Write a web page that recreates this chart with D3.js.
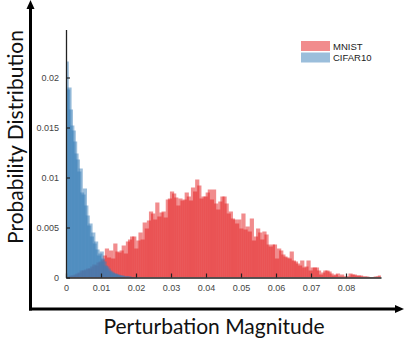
<!DOCTYPE html>
<html>
<head>
<meta charset="utf-8">
<script src="https://cdn.jsdelivr.net/npm/d3@7"></script>
<style>
  html, body { margin: 0; padding: 0; background: #fff; }
  svg { display: block; }
</style>
</head>
<body>
<script>
// histogram bins (probability per bin)
const mnistBin = 0.0006
const mnistValues = [
  0.00005, 0.0001, 0.0002, 0.0002, 0.0003, 0.0004, 0.0005, 0.0007, 0.0007, 0.0008,
  0.0009, 0.0009, 0.0011, 0.0013, 0.0012, 0.0015, 0.0016, 0.0018, 0.0022, 0.0029,
  0.0020, 0.0027, 0.0019, 0.0034, 0.0026, 0.0025, 0.0027, 0.0032, 0.0024, 0.0036,
  0.0038, 0.0041, 0.0041, 0.0029, 0.0037, 0.0045, 0.0038, 0.0055, 0.0049, 0.0057,
  0.0066, 0.0064, 0.0058, 0.0075, 0.0061, 0.0065, 0.0066, 0.0060, 0.0078, 0.0079,
  0.0086, 0.0084, 0.0080, 0.0072, 0.0079, 0.0077, 0.0078, 0.0085, 0.0081, 0.0077,
  0.0090, 0.0086, 0.0098, 0.0092, 0.0079, 0.0081, 0.0081, 0.0085, 0.0088, 0.0078,
  0.0088, 0.0074, 0.0068, 0.0076, 0.0081, 0.0081, 0.0074, 0.0064, 0.0066, 0.0059,
  0.0058, 0.0054, 0.0058, 0.0049, 0.0064, 0.0048, 0.0051, 0.0046, 0.0059, 0.0037,
  0.0041, 0.0049, 0.0045, 0.0038, 0.0046, 0.0043, 0.0033, 0.0031, 0.0033, 0.0033,
  0.0019, 0.0029, 0.0027, 0.0023, 0.0021, 0.0020, 0.0019, 0.0026, 0.0017, 0.0016,
  0.0014, 0.0012, 0.0017, 0.0010, 0.0011, 0.0017, 0.0007, 0.0010, 0.0010, 0.0010,
  0.0007, 0.0003, 0.0005, 0.0007, 0.0007, 0.0006, 0.0004, 0.0002, 0.0003, 0.0004,
  0.0001, 0.0003, 0.0001, 0.0001, 0.0001, 0.0004, 0.0003, 0.0003, 0.0002, 0.0002,
  0.0002, 0.0001, 0.0001, 0.0001, 0.00005, 0.00005, 0.00005, 0.0001, 0.0001, 0.0002
]
const cifarBin = 0.0004
const cifarValues = [
  0.0216, 0.0188, 0.0190, 0.0168, 0.0152, 0.0147, 0.0136, 0.0124, 0.0118, 0.0106,
  0.0109, 0.0085, 0.0083, 0.0089, 0.0072, 0.0062, 0.0052, 0.0054, 0.0041, 0.0045,
  0.0034, 0.0036, 0.0028, 0.0022, 0.0024, 0.0026, 0.0019, 0.0016, 0.0012, 0.0011,
  0.0009, 0.0007, 0.0006, 0.0005, 0.0004, 0.0004, 0.0003, 0.0003, 0.0002, 0.0002,
  0.0002, 0.0001, 0.0001, 0.0001, 0.0001, 0.0001, 0.00005, 0.00005, 0.00005, 0.00005
]
const seriesNames = ['MNIST', 'CIFAR10']
const seriesColors = ['#e41a1c', '#377eb8']
const xTicks = [0, 0.01, 0.02, 0.03, 0.04, 0.05, 0.06, 0.07, 0.08]
const yTicks = [0, 0.005, 0.01, 0.015, 0.02]
const xTitle = 'Perturbation Magnitude'
const yTitle = 'Probability Distribution'

const W = 404, H = 343
const plot = {left: 66, right: 381, top: 29.5, bottom: 277.5}

const svg = d3.select('body').append('svg')
  .attr('width', W).attr('height', H)

const x = d3.scaleLinear().domain([0, 0.09]).range([plot.left, plot.right])
const y = d3.scaleLinear().domain([0, 0.0248]).range([plot.bottom, plot.top])

svg.append('defs').append('clipPath').attr('id', 'clip')
  .append('rect')
  .attr('x', plot.left).attr('y', 0)
  .attr('width', plot.right - plot.left).attr('height', plot.bottom)

const bars = svg.append('g').attr('clip-path', 'url(#clip)')

// bars drawn half transparent and overlapping their neighbours,
// so the tops get the light / dark mix of the original
const drawHist = (values, bin, color, spread) => {
  const px = x(bin) - x(0)
  bars.append('g').selectAll('rect')
    .data(values)
    .enter()
    .append('rect')
    .attr('x', (d, i) => x(i * bin) + px / 2 - px * spread / 2)
    .attr('width', px * spread)
    .attr('y', d => y(d))
    .attr('height', d => y(0) - y(d))
    .attr('fill', color)
    .attr('fill-opacity', 0.5)
}
drawHist(mnistValues, mnistBin, seriesColors[0], 2)
drawHist(cifarValues, cifarBin, seriesColors[1], 3)

// axes
const xAxis = d3.axisBottom(x).tickValues(xTicks).tickSizeInner(-4).tickSizeOuter(0).tickPadding(7)
  .tickFormat(d => d === 0 ? '0' : d3.format('.2f')(d))
const yAxis = d3.axisLeft(y).tickValues(yTicks).tickSizeInner(-4).tickSizeOuter(0).tickPadding(7)
  .tickFormat(d => d === 0 ? '0' : String(+d.toFixed(3)))

const gX = svg.append('g').attr('transform', `translate(0, ${plot.bottom})`).call(xAxis)
const gY = svg.append('g').attr('transform', `translate(${plot.left}, 0)`).call(yAxis)
;[gX, gY].forEach(g => {
  g.select('.domain').attr('stroke', '#222').attr('stroke-width', 1.3)
  g.selectAll('.tick line').attr('stroke', '#222').attr('stroke-width', 1.2)
  g.selectAll('.tick text')
    .attr('fill', '#444')
    .style('font-family', '"Liberation Sans", Arial, sans-serif')
    .style('font-size', '9px')
})

// legend
const legend = svg.append('g').attr('transform', 'translate(301, 41)')
seriesNames.forEach((name, i) => {
  legend.append('rect')
    .attr('x', 0).attr('y', i * 11.5)
    .attr('width', 29).attr('height', 10)
    .attr('fill', seriesColors[i]).attr('fill-opacity', 0.5)
  legend.append('text')
    .attr('x', 32).attr('y', i * 11.5 + 8.5)
    .text(name)
    .style('font-family', '"Liberation Sans", Arial, sans-serif')
    .style('font-size', '9.5px')
    .attr('fill', '#222')
})

// outer arrows
svg.append('line').attr('x1', 30.5).attr('x2', 30.5).attr('y1', 7).attr('y2', 310.5)
  .attr('stroke', '#000').attr('stroke-width', 3)
svg.append('path').attr('d', 'M30.5,0 L26.5,9 L34.5,9 Z').attr('fill', '#000')
svg.append('line').attr('x1', 29).attr('x2', 396).attr('y1', 309).attr('y2', 309)
  .attr('stroke', '#000').attr('stroke-width', 3)
svg.append('path').attr('d', 'M404,309 L395,305 L395,313 Z').attr('fill', '#000')

// titles
svg.append('text')
  .attr('x', 214).attr('y', 334)
  .attr('text-anchor', 'middle')
  .style('font-family', 'Lato, "Open Sans", sans-serif')
  .style('font-size', '21px')
  .attr('fill', '#111')
  .text(xTitle)
svg.append('text')
  .attr('transform', 'translate(23, 137) rotate(-90)')
  .attr('text-anchor', 'middle')
  .style('font-family', 'Lato, "Open Sans", sans-serif')
  .style('font-size', '21px')
  .attr('fill', '#111')
  .text(yTitle)
</script>
</body>
</html>
